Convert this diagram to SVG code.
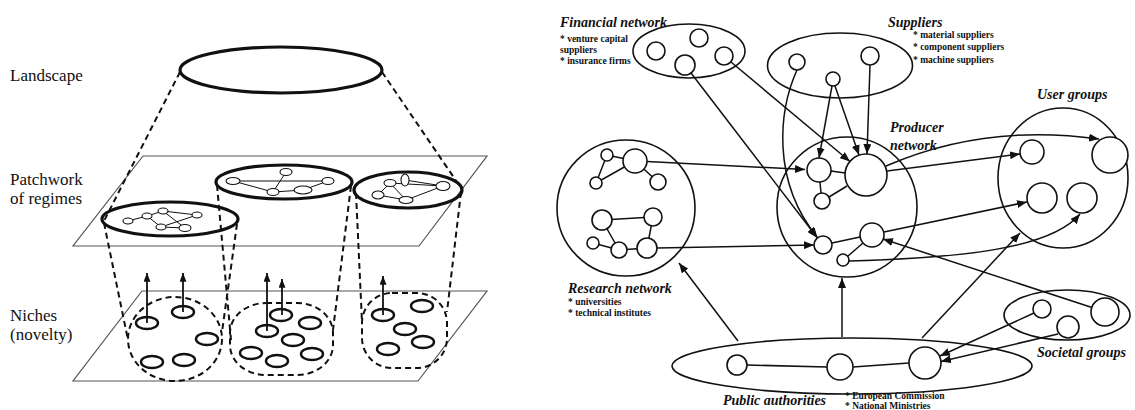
<svg xmlns="http://www.w3.org/2000/svg" width="1135" height="410" viewBox="0 0 1135 410">
  <style>
    text { font-family: 'Liberation Serif', 'DejaVu Serif', serif; fill: #111; }
    .lbl { font-size: 17px; }
    .ttl { font-size: 14px; font-weight: bold; font-style: italic; }
    .sub { font-size: 9.5px; font-weight: bold; }
    .plane { fill: none; stroke: #555; stroke-width: 1.2; }
    .thick { fill: none; stroke: #111; stroke-width: 3.2; }
    .dash { fill: none; stroke: #111; stroke-width: 2; stroke-dasharray: 6 4; }
    .mini { fill: #fff; stroke: #111; stroke-width: 1.1; }
    .mline { stroke: #111; stroke-width: 1; fill: none; }
    .niche { fill: #fff; stroke: #111; stroke-width: 2.4; }
    .up { stroke: #111; stroke-width: 1.8; fill: none; marker-end: url(#ahs); }
    .grp { fill: none; stroke: #111; stroke-width: 1.6; }
    .nd { fill: #fff; stroke: #111; stroke-width: 1.6; }
    .ln { stroke: #111; stroke-width: 1.5; fill: none; }
    .ar { stroke: #111; stroke-width: 1.5; fill: none; marker-end: url(#ah); }
  </style>
  <defs>
    <marker id="ah" viewBox="0 0 10 8" refX="10" refY="4" markerWidth="10" markerHeight="8" markerUnits="userSpaceOnUse" orient="auto">
      <path d="M0,0 L10,4 L0,8 z" fill="#111"/>
    </marker>
    <marker id="ahs" viewBox="0 0 10 8" refX="10" refY="4" markerWidth="9" markerHeight="7" markerUnits="userSpaceOnUse" orient="auto">
      <path d="M0,0 L10,4 L0,8 z" fill="#111"/>
    </marker>
  </defs>
  <rect width="1135" height="410" fill="#fff"/>

  <!-- ===== Multi-level perspective (left) ===== -->
  <g id="mlp-labels" font-family="Liberation Serif, serif">
    <text class="lbl" x="10" y="81" font-family="Liberation Serif, serif">Landscape</text>
    <text class="lbl" x="10" y="185" font-family="Liberation Serif, serif">Patchwork</text>
    <text class="lbl" x="10" y="204" font-family="Liberation Serif, serif">of regimes</text>
    <text class="lbl" x="10" y="321" font-family="Liberation Serif, serif">Niches</text>
    <text class="lbl" x="10" y="340" font-family="Liberation Serif, serif">(novelty)</text>
  </g>

  <g id="planes">
    <polygon class="plane" points="143,156 487,156 419,246 73,246"/>
    <polygon class="plane" points="142,291 487,291 418,381 73,381"/>
  </g>

  <g id="landscape">
    <ellipse class="thick" cx="281" cy="70" rx="101" ry="23"/>
  </g>

  <g id="projections">
    <line class="dash" x1="180" y1="72" x2="104" y2="221"/>
    <line class="dash" x1="382" y1="72" x2="461" y2="188"/>
    <line class="dash" x1="104" y1="223" x2="128" y2="340"/>
    <line class="dash" x1="237" y1="224" x2="222" y2="332"/>
    <line class="dash" x1="217" y1="185" x2="231" y2="340"/>
    <line class="dash" x1="351" y1="186" x2="333" y2="330"/>
    <line class="dash" x1="356" y1="193" x2="362" y2="322"/>
    <line class="dash" x1="461" y1="192" x2="447" y2="312"/>
  </g>

  <g id="regime-1">
    <ellipse class="thick" cx="170" cy="219" rx="68" ry="17"/>
    <path class="mline" d="M128,221 L147,216 L163,211 L197,215 M147,216 L161,227 L197,215 M163,211 L185,228 M161,227 L185,228"/>
    <ellipse class="mini" cx="128" cy="221" rx="5" ry="3"/>
    <ellipse class="mini" cx="147" cy="216" rx="5" ry="3"/>
    <ellipse class="mini" cx="163" cy="211" rx="5" ry="3"/>
    <ellipse class="mini" cx="197" cy="215" rx="5" ry="3"/>
    <ellipse class="mini" cx="161" cy="227" rx="5" ry="3"/>
    <ellipse class="mini" cx="185" cy="228" rx="6" ry="3.5"/>
  </g>

  <g id="regime-2">
    <ellipse class="thick" cx="284" cy="182" rx="68" ry="17"/>
    <path class="mline" d="M233,181 L328,181 M233,181 L273,192 L286,172 M273,192 L303,190 L328,181"/>
    <ellipse class="mini" cx="233" cy="181" rx="7" ry="3.5"/>
    <ellipse class="mini" cx="286" cy="172" rx="6" ry="3.5"/>
    <ellipse class="mini" cx="328" cy="181" rx="6" ry="3.5"/>
    <ellipse class="mini" cx="273" cy="192" rx="6" ry="3.5"/>
    <ellipse class="mini" cx="303" cy="190" rx="9" ry="4"/>
  </g>

  <g id="regime-3">
    <ellipse class="thick" cx="408" cy="190" rx="54" ry="18"/>
    <path class="mline" d="M390,183 L443,186 M405,180 L443,186 M378,195 L406,200 L443,186 M390,183 L406,200 M378,195 L390,183"/>
    <ellipse class="mini" cx="390" cy="183" rx="6" ry="3.5"/>
    <ellipse class="mini" cx="405" cy="180" rx="4" ry="6"/>
    <ellipse class="mini" cx="443" cy="186" rx="7" ry="4.5"/>
    <ellipse class="mini" cx="378" cy="195" rx="6" ry="4"/>
    <ellipse class="mini" cx="406" cy="200" rx="7" ry="3.5"/>
  </g>

  <g id="niche-1">
    <ellipse class="dash" cx="175" cy="339" rx="47" ry="42"/>
    <ellipse class="niche" cx="147" cy="323" rx="11" ry="6"/>
    <ellipse class="niche" cx="183" cy="312" rx="11" ry="6"/>
    <ellipse class="niche" cx="207" cy="339" rx="11" ry="6"/>
    <ellipse class="niche" cx="152" cy="362" rx="11" ry="6"/>
    <ellipse class="niche" cx="184" cy="360" rx="11" ry="6"/>
  </g>

  <g id="niche-2">
    <rect class="dash" x="230" y="303" width="103" height="72" rx="36" ry="30"/>
    <ellipse class="niche" cx="281" cy="315" rx="11" ry="6"/>
    <ellipse class="niche" cx="310" cy="323" rx="11" ry="6"/>
    <ellipse class="niche" cx="267" cy="331" rx="11" ry="6"/>
    <ellipse class="niche" cx="293" cy="340" rx="11" ry="6"/>
    <ellipse class="niche" cx="251" cy="353" rx="11" ry="6"/>
    <ellipse class="niche" cx="277" cy="361" rx="11" ry="6"/>
    <ellipse class="niche" cx="312" cy="354" rx="11" ry="6"/>
  </g>

  <g id="niche-3">
    <rect class="dash" x="362" y="293" width="85" height="75" rx="30" ry="30"/>
    <ellipse class="niche" cx="422" cy="306" rx="11" ry="6"/>
    <ellipse class="niche" cx="383" cy="315" rx="11" ry="6"/>
    <ellipse class="niche" cx="405" cy="329" rx="11" ry="6"/>
    <ellipse class="niche" cx="423" cy="342" rx="11" ry="6"/>
    <ellipse class="niche" cx="388" cy="349" rx="11" ry="6"/>
  </g>

  <g id="niche-arrows">
    <line class="up" x1="147" y1="323" x2="147" y2="273"/>
    <line class="up" x1="183" y1="312" x2="183" y2="273"/>
    <line class="up" x1="267" y1="331" x2="267" y2="273"/>
    <line class="up" x1="282" y1="315" x2="282" y2="279"/>
    <line class="up" x1="383" y1="315" x2="383" y2="276"/>
  </g>

  <!-- ===== Actor networks (right) ===== -->
  <g id="connectors">
    <!-- financial network -->
    <line class="ar" x1="691" y1="73" x2="817.5" y2="238"/>
    <line class="ar" x1="731" y1="62" x2="850" y2="161.5"/>
    <!-- suppliers -->
    <line class="ar" x1="832" y1="86" x2="819" y2="158"/>
    <line class="ar" x1="835" y1="86" x2="859" y2="155"/>
    <line class="ar" x1="870" y1="65" x2="867" y2="154"/>
    <path class="ar" d="M797,70 C779,110 771,180 817,237"/>
    <!-- research network -->
    <line class="ar" x1="647" y1="161.5" x2="805" y2="169.5"/>
    <line class="ar" x1="657" y1="248" x2="814" y2="245"/>
    <!-- producer network to user groups -->
    <line class="ar" x1="887" y1="171" x2="1020" y2="154"/>
    <path class="ar" d="M886,166 C950,138 1020,128 1099,139"/>
    <line class="ar" x1="884" y1="232" x2="1027" y2="202"/>
    <path class="ar" d="M849,261 C955,258 1050,250 1080,214"/>
    <!-- societal groups -->
    <line class="ar" x1="1092" y1="307.5" x2="883" y2="239"/>
    <line class="ar" x1="1034" y1="313" x2="940" y2="356"/>
    <line class="ar" x1="1058" y1="334" x2="941" y2="361.5"/>
    <!-- public authorities -->
    <line class="ar" x1="922" y1="338" x2="1020" y2="233"/>
    <line class="ar" x1="842" y1="337" x2="842" y2="278"/>
    <line class="ar" x1="738" y1="341" x2="679" y2="263"/>
  </g>

  <g id="financial-network">
    <ellipse class="grp" cx="689" cy="51" rx="56" ry="27"/>
    <circle class="nd" cx="656" cy="51" r="9"/>
    <circle class="nd" cx="699" cy="38" r="9"/>
    <circle class="nd" cx="685" cy="65" r="10"/>
    <circle class="nd" cx="724" cy="56" r="9"/>
    <text class="ttl" x="560" y="27">Financial network</text>
    <text class="sub" x="560" y="42">* venture capital</text>
    <text class="sub" x="560" y="53">suppliers</text>
    <text class="sub" x="560" y="64">* insurance firms</text>
  </g>

  <g id="suppliers">
    <ellipse class="grp" cx="840" cy="65.5" rx="72.5" ry="32.5"/>
    <circle class="nd" cx="797" cy="62" r="8"/>
    <circle class="nd" cx="833" cy="79" r="7"/>
    <circle class="nd" cx="870" cy="56" r="9"/>
    <text class="ttl" x="888" y="27">Suppliers</text>
    <text class="sub" x="913" y="38">* material suppliers</text>
    <text class="sub" x="913" y="50">* component suppliers</text>
    <text class="sub" x="913" y="63">* machine suppliers</text>
  </g>

  <g id="producer-network">
    <circle class="grp" cx="847" cy="207" r="70"/>
    <path class="ln" d="M831,171 L845,173 M820,182 L821,193 M829,197 L847,186 M832,243 L860,237 M848,256 L863,243"/>
    <circle class="nd" cx="819" cy="170" r="12"/>
    <circle class="nd" cx="866" cy="175" r="21"/>
    <circle class="nd" cx="822" cy="201" r="8"/>
    <circle class="nd" cx="823" cy="245" r="9"/>
    <circle class="nd" cx="872" cy="235" r="12"/>
    <circle class="nd" cx="843" cy="260" r="6"/>
    <text class="ttl" x="890" y="132">Producer</text>
    <text class="ttl" x="890" y="150">network</text>
  </g>

  <g id="user-groups">
    <ellipse class="grp" cx="1063" cy="178" rx="65" ry="70"/>
    <circle class="nd" cx="1032" cy="152" r="12"/>
    <circle class="nd" cx="1110" cy="155" r="18"/>
    <circle class="nd" cx="1042" cy="198" r="15"/>
    <circle class="nd" cx="1082" cy="198" r="15"/>
    <text class="ttl" x="1037" y="99">User groups</text>
  </g>

  <g id="research-network">
    <ellipse class="grp" cx="626" cy="208" rx="69" ry="68"/>
    <path class="ln" d="M607,155 L596,183 L635,161 M607,155 L635,161 M635,161 L658,182 M602,220 L653,217 M602,220 L619,250 M593,243 L619,250 L647,248 L653,217"/>
    <circle class="nd" cx="607" cy="155" r="6"/>
    <circle class="nd" cx="635" cy="161" r="12"/>
    <circle class="nd" cx="596" cy="183" r="6"/>
    <circle class="nd" cx="658" cy="182" r="8"/>
    <circle class="nd" cx="602" cy="220" r="10"/>
    <circle class="nd" cx="653" cy="217" r="9"/>
    <circle class="nd" cx="593" cy="243" r="6"/>
    <circle class="nd" cx="619" cy="250" r="8"/>
    <circle class="nd" cx="647" cy="248" r="10"/>
    <text class="ttl" x="568" y="293">Research network</text>
    <text class="sub" x="568" y="305">* universities</text>
    <text class="sub" x="568" y="316">* technical institutes</text>
  </g>

  <g id="societal-groups">
    <ellipse class="grp" cx="1067" cy="315" rx="63" ry="25"/>
    <circle class="nd" cx="1042" cy="309" r="9"/>
    <circle class="nd" cx="1068" cy="327" r="11"/>
    <circle class="nd" cx="1105" cy="312" r="14"/>
    <text class="ttl" x="1037" y="357">Societal groups</text>
  </g>

  <g id="public-authorities">
    <ellipse class="grp" cx="852" cy="366" rx="180" ry="28"/>
    <path class="ln" d="M747,365 L827,367 M853,367 L909,363"/>
    <circle class="nd" cx="737" cy="365" r="10"/>
    <circle class="nd" cx="840" cy="367" r="13"/>
    <circle class="nd" cx="925" cy="363" r="16"/>
    <text class="ttl" x="723" y="405">Public authorities</text>
    <text class="sub" x="845" y="399">* European Commission</text>
    <text class="sub" x="845" y="409">* National Ministries</text>
  </g>
</svg>
